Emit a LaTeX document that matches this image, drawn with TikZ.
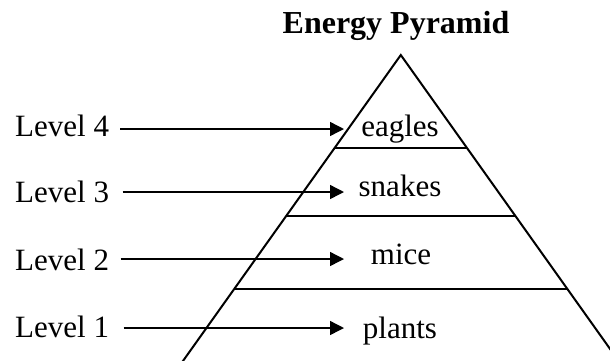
\documentclass[tikz,border=0pt]{standalone}
\usepackage{fontspec}
\setmainfont{Liberation Serif}
\usetikzlibrary{arrows.meta,calc}
\begin{document}
\begin{tikzpicture}[x=1pt,y=-1pt,
  lvl/.style={anchor=base west, inner sep=0pt, font=\fontsize{31}{36}\selectfont},
  org/.style={anchor=base, inner sep=0pt, font=\fontsize{31}{36}\selectfont},
  ttl/.style={anchor=base, inner sep=0pt, font=\fontsize{32}{38}\selectfont\bfseries},
  pyr/.style={line width=2pt, line join=miter},
  tier/.style={line width=2.4pt},
  arr/.style={line width=1.4pt, -{Triangle[length=14pt,width=14pt]}}]
\useasboundingbox (0,0) rectangle (610,360);
% title
\node[ttl] (title) at (396,33) {Energy Pyramid};
% pyramid
\coordinate (apex) at (400.8,55);
\coordinate (bl) at (180.1,365);
\coordinate (br) at (621.5,365);
\begin{scope}
\clip (0,0) rectangle (610,360);
\draw[pyr] (bl) -- (apex) -- (br);
\end{scope}
\coordinate (t1l) at ($(apex)!0.3!(bl)$);
\coordinate (t1r) at ($(apex)!0.3!(br)$);
\coordinate (t2l) at ($(apex)!0.519!(bl)$);
\coordinate (t2r) at ($(apex)!0.519!(br)$);
\coordinate (t3l) at ($(apex)!0.755!(bl)$);
\coordinate (t3r) at ($(apex)!0.755!(br)$);
\draw[tier] (t1l) -- (t1r);
\draw[tier] (t2l) -- (t2r);
\draw[tier] (t3l) -- (t3r);
% organisms
\node[org] (eagles) at (400,136.7) {eagles};
\node[org] (snakes) at (400,196.7) {snakes};
\node[org] (mice) at (401,264) {mice};
\node[org] (plants) at (400,338.5) {plants};
% level labels
\node[lvl] (L4) at (15,136.7) {Level 4};
\node[lvl] (L3) at (15,202) {Level 3};
\node[lvl] (L2) at (15,270) {Level 2};
\node[lvl] (L1) at (15,337) {Level 1};
% arrows
\coordinate (s4) at (120,129); \coordinate (e4) at (344,129);
\coordinate (s3) at (122.6,192); \coordinate (e3) at (344,192);
\coordinate (s2) at (120.6,259); \coordinate (e2) at (344,259);
\coordinate (s1) at (123.7,328); \coordinate (e1) at (344,328);
\draw[arr] (s4) -- (e4);
\draw[arr] (s3) -- (e3);
\draw[arr] (s2) -- (e2);
\draw[arr] (s1) -- (e1);
\end{tikzpicture}
\end{document}
